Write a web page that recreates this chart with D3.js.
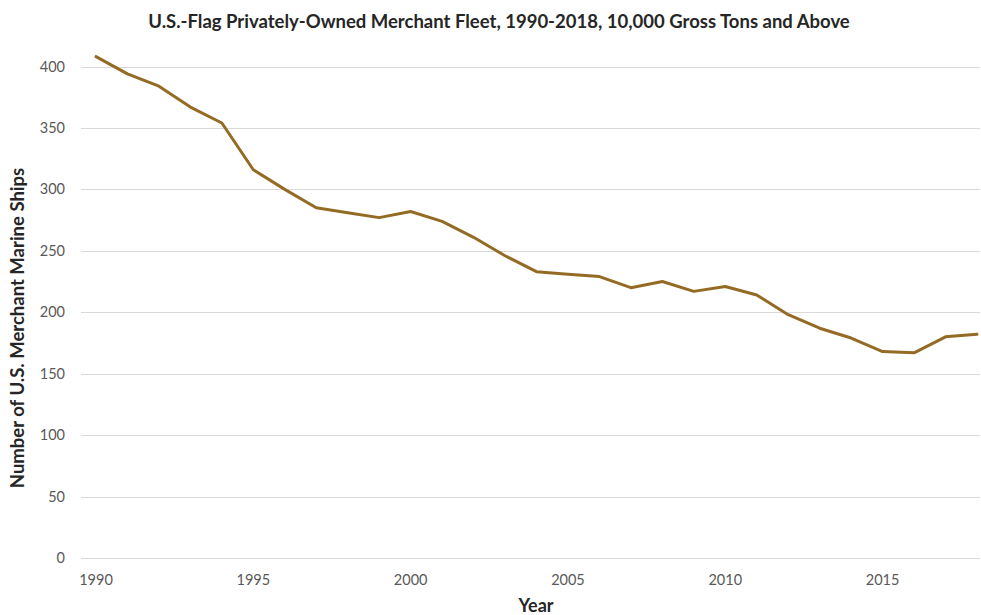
<!DOCTYPE html>
<html>
<head>
<meta charset="utf-8">
<script src="https://d3js.org/d3.v7.min.js"></script>
<style>
  body { margin: 0; background: #fff; }
  svg { display: block; font-family: Lato, 'Open Sans', sans-serif; }
</style>
</head>
<body>
<script>
// Data
const years = d3.range(1990, 2019)
const ships = [408, 394, 384, 367, 354, 316, 300, 285, 281, 277, 282, 274, 261, 246, 233,
  231, 229, 220, 225, 217, 221, 214, 198, 187, 179, 168, 167, 180, 182]
const yTicks = [0, 50, 100, 150, 200, 250, 300, 350, 400]
const xTicks = [1990, 1995, 2000, 2005, 2010, 2015]

const width = 981
const height = 615

const svg = d3.select('body').append('svg')
  .attr('width', width)
  .attr('height', height)

const xScale = d3.scaleLinear().domain([1990, 2018]).range([96, 977])
const yScale = d3.scaleLinear().domain([0, 400]).range([558, 66.5])

// Horizontal gridlines
svg.append('g')
  .selectAll('line')
  .data(yTicks)
  .join('line')
  .attr('x1', 81)
  .attr('x2', 980)
  .attr('y1', d => Math.round(yScale(d)) + 0.5)
  .attr('y2', d => Math.round(yScale(d)) + 0.5)
  .style('stroke', '#d9d9d9')
  .style('stroke-width', 1)

// Y tick labels
svg.append('g')
  .selectAll('text')
  .data(yTicks)
  .join('text')
  .attr('x', 65)
  .attr('y', d => yScale(d))
  .attr('dy', '0.35em')
  .attr('text-anchor', 'end')
  .attr('font-size', 14.5)
  .attr('fill', '#595959')
  .text(d => d)

// X tick labels
svg.append('g')
  .selectAll('text')
  .data(xTicks)
  .join('text')
  .attr('x', d => xScale(d))
  .attr('y', 580)
  .attr('dy', '0.35em')
  .attr('text-anchor', 'middle')
  .attr('font-size', 14.5)
  .attr('fill', '#595959')
  .text(d => d)

// The line
const line = d3.line()
  .x((d, i) => xScale(years[i]))
  .y(d => yScale(d))

svg.append('path')
  .datum(ships)
  .attr('d', line)
  .attr('fill', 'none')
  .attr('stroke', '#946b24')
  .attr('stroke-width', 3)
  .attr('stroke-linejoin', 'round')
  .attr('stroke-linecap', 'round')

// Title
svg.append('text')
  .attr('x', 499)
  .attr('y', 22)
  .attr('dy', '0.35em')
  .attr('text-anchor', 'middle')
  .attr('font-size', 18.5)
  .attr('font-weight', 'bold')
  .attr('fill', '#262626')
  .text('U.S.-Flag Privately-Owned Merchant Fleet, 1990-2018, 10,000 Gross Tons and Above')

// Axis titles
svg.append('text')
  .attr('x', 536)
  .attr('y', 606)
  .attr('dy', '0.35em')
  .attr('text-anchor', 'middle')
  .attr('font-size', 18)
  .attr('font-weight', 'bold')
  .attr('fill', '#262626')
  .text('Year')

svg.append('text')
  .attr('transform', 'translate(18,328) rotate(-90)')
  .attr('dy', '0.35em')
  .attr('text-anchor', 'middle')
  .attr('font-size', 18.5)
  .attr('font-weight', 'bold')
  .attr('fill', '#262626')
  .text('Number of U.S. Merchant Marine Ships')
</script>
</body>
</html>
